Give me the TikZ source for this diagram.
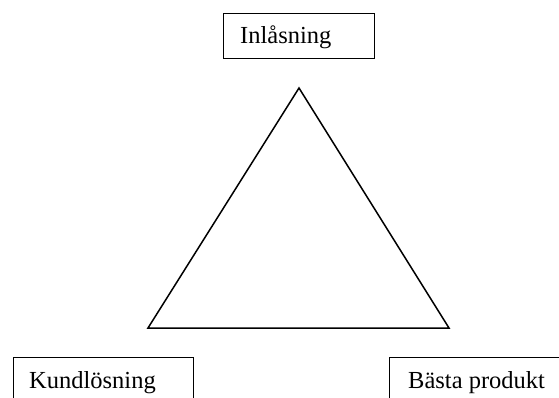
\documentclass[tikz,border=0pt]{standalone}
\usepackage{fontspec}
\setmainfont{Liberation Serif}
\begin{document}
\begin{tikzpicture}[x=1pt,y=-1pt,
  box/.style={draw=black, line width=1.3pt, rectangle, inner sep=0pt, anchor=north west},
  lbl/.style={inner sep=0pt, anchor=base west, font=\fontsize{24.5}{28}\selectfont},
  tri/.style={draw=black, line width=1.5pt, line join=miter}]
  \useasboundingbox (0,0) rectangle (559,398);
  \clip (0,0) rectangle (559,398);
  % top box
  \node[box, minimum width=151pt, minimum height=45pt] (inlbox) at (223,13) {};
  \node[lbl] (inl) at (240,44) {Inlåsning};
  % bottom boxes, running past the lower edge
  \node[box, minimum width=180pt, minimum height=70pt] (kundbox) at (13,357) {};
  \node[lbl] (kund) at (29,388) {Kundlösning};
  \node[box, minimum width=190pt, minimum height=70pt] (bastabox) at (389,357) {};
  \node[lbl] (basta) at (408,388) {Bästa produkt};
  % triangle
  \coordinate (apex) at (299,88);
  \coordinate (bl) at (148,328);
  \coordinate (br) at (449,328);
  \draw[tri] (apex) -- (bl) -- (br) -- cycle;
\end{tikzpicture}
\end{document}
